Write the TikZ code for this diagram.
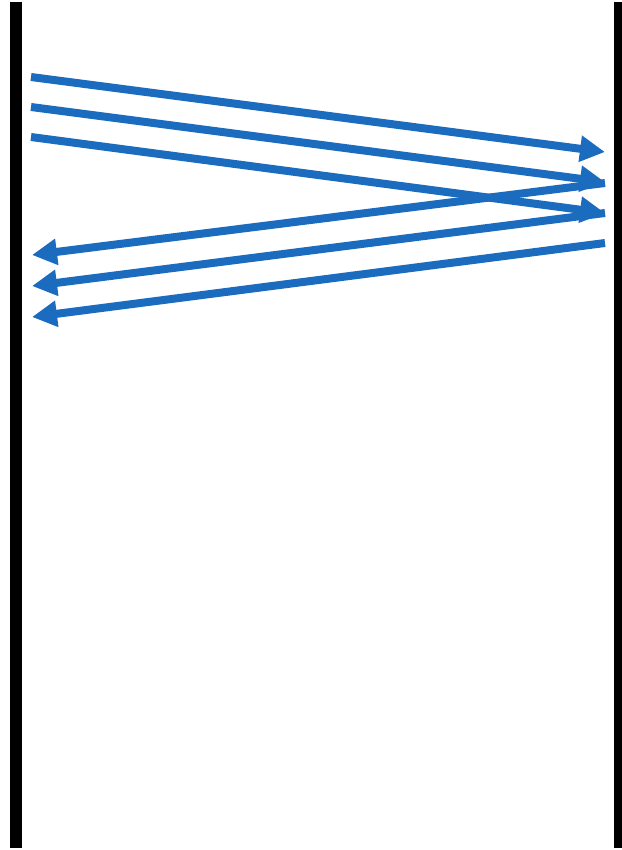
\documentclass[tikz,border=0pt]{standalone}
\usepackage{xcolor}
\usepackage{tikz}
\usetikzlibrary{arrows.meta, positioning, calc}
\definecolor{msgblue}{RGB}{27,108,190}
\tikzset{
	lifeline/.style={line width=0.26cm, black},
	msgarr/.style={-{Triangle[length=0.5cm, width=0.5cm]}, line width=0.16cm, msgblue},
}

\begin{document}
\begin{tikzpicture}[x=0.02cm, y=-0.02cm]
	\useasboundingbox (0,0) rectangle (622,850);
	% lifelines
	\coordinate (lt) at (16,2);
	\coordinate (lb) at (16,848);
	\coordinate (rt) at (620,2);
	\coordinate (rb) at (620,848);
	\draw[lifeline] (lt) -- (lb);
	\draw[lifeline] (rt) -- (rb);
	% left to right
	\coordinate (s1) at (31,77);   \coordinate (e1) at (605,152);
	\coordinate (s2) at (31,107);  \coordinate (e2) at (605,182);
	\coordinate (s3) at (31,137);  \coordinate (e3) at (605,213);
	\draw[msgarr] (s1) -- (e1);
	\draw[msgarr] (s2) -- (e2);
	\draw[msgarr] (s3) -- (e3);
	% right to left
	\coordinate (s4) at (605,183); \coordinate (e4) at (32,255);
	\coordinate (s5) at (605,213); \coordinate (e5) at (32,286);
	\coordinate (s6) at (605,243); \coordinate (e6) at (32,317);
	\draw[msgarr] (s4) -- (e4);
	\draw[msgarr] (s5) -- (e5);
	\draw[msgarr] (s6) -- (e6);
\end{tikzpicture}
\end{document}
